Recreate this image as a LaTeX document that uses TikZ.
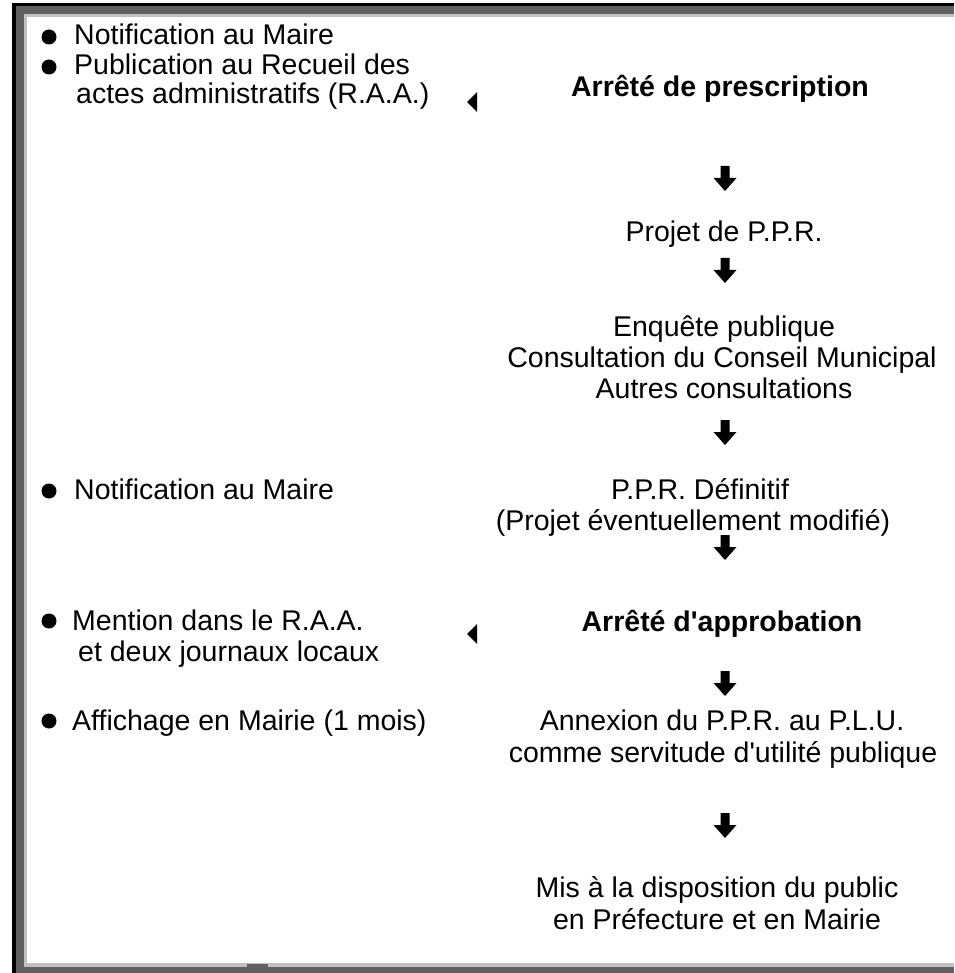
\documentclass[tikz,border=0pt]{standalone}
\usepackage{fontspec}
\setmainfont{Liberation Sans}
\definecolor{framedark}{HTML}{606060}
\definecolor{framelight}{HTML}{C0C0C0}
\tikzset{
  txt/.style={inner sep=0pt, font=\fontsize{28.5}{31}\selectfont},
  lefttxt/.style={txt, anchor=base west},
  midtxt/.style={txt, anchor=base},
  boldtxt/.style={txt, anchor=base, font=\fontsize{28.5}{31}\selectfont\bfseries},
  bulletdot/.style={circle, fill=black, inner sep=0pt, minimum size=15pt},
  ptr/.style={fill=black},
}
\newcommand{\blockdown}[3]{% name, x, top y
  \fill[black] (#2-4.5,#3) -- (#2+4.5,#3) -- (#2+4.5,#3+12) -- (#2+11.5,#3+12)
     -- (#2,#3+25) -- (#2-11.5,#3+12) -- (#2-4.5,#3+12) -- cycle;
  \coordinate (#1) at (#2,#3+12);
}
\begin{document}
\begin{tikzpicture}[x=1pt,y=-1pt]
\useasboundingbox (0,0) rectangle (954,973);
% frame
\fill[white] (0,0) rectangle (954,973);
\fill[black] (12,3) rectangle (954,973);
\fill[framedark] (16,6) rectangle (954,973);
\fill[framelight] (24,14) rectangle (954,967);
\fill[white] (27,17) rectangle (954,963);
\fill[framedark] (247,964) rectangle (268,967);

% left column
\node[bulletdot] (b1) at (49,37) {};
\node[lefttxt] (l1) at (74,45) {Notification au Maire};
\node[bulletdot] (b2) at (49,67) {};
\node[lefttxt] (l2) at (74,75) {Publication au Recueil des};
\node[lefttxt] (l3) at (76,104) {actes administratifs (R.A.A.)};
\fill[ptr] (467,102) -- (477,92) -- (477,112) -- cycle;

\node[bulletdot] (b3) at (49,491) {};
\node[lefttxt] (l4) at (74,499) {Notification au Maire};

\node[bulletdot] (b4) at (49,621) {};
\node[lefttxt] (l5) at (72,630) {Mention dans le R.A.A.};
\node[lefttxt] (l6) at (78,661) {et deux journaux locaux};
\fill[ptr] (467,634) -- (477,624) -- (477,644) -- cycle;

\node[bulletdot] (b5) at (49,721) {};
\node[lefttxt] (l7) at (72,730) {Affichage en Mairie (1 mois)};

% right column
\node[boldtxt] (r1) at (720,97) {Arrêté de prescription};
\blockdown{a1}{725}{166}
\node[midtxt] (r2) at (724,242) {Projet de P.P.R.};
\blockdown{a2}{725}{258}
\node[midtxt] (r3) at (724,336) {Enquête publique};
\node[midtxt] (r4) at (722,367) {Consultation du Conseil Municipal};
\node[midtxt] (r5) at (724,398) {Autres consultations};
\blockdown{a3}{725}{420}
\node[midtxt] (r6) at (700,499) {P.P.R. Définitif};
\node[midtxt] (r7) at (693,530) {(Projet éventuellement modifié)};
\blockdown{a4}{725}{535}
\node[boldtxt] (r8) at (722,631) {Arrêté d\textquotesingle approbation};
\blockdown{a5}{725}{671}
\node[midtxt] (r9) at (722,730) {Annexion du P.P.R. au P.L.U.};
\node[midtxt] (r10) at (723,762) {comme servitude d\textquotesingle utilité publique};
\blockdown{a6}{725}{813}
\node[midtxt] (r11) at (717,897) {Mis à la disposition du public};
\node[midtxt] (r12) at (717,929) {en Préfecture et en Mairie};
\end{tikzpicture}
\end{document}
